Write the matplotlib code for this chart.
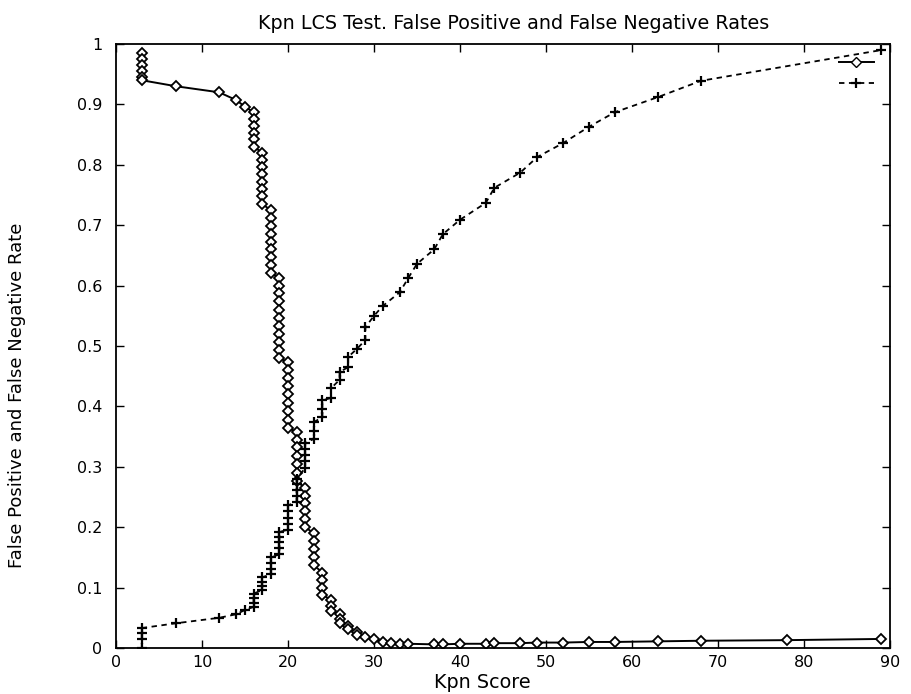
import matplotlib
matplotlib.use("Agg")
import matplotlib.pyplot as plt
from matplotlib.lines import Line2D

plt.rcParams['font.family'] = ['DejaVu Sans']

# False negative (diamonds, solid)
fn_x = [3, 3, 3, 3, 3, 3,
        7, 12, 14, 15,
        16, 16, 16, 16, 16, 16,
        17, 17, 17, 17, 17, 17, 17, 17,
        18, 18, 18, 18, 18, 18, 18, 18, 18,
        19, 19, 19, 19, 19, 19, 19, 19, 19, 19, 19,
        20, 20, 20, 20, 20, 20, 20, 20, 20,
        21, 21, 21, 21, 21, 21, 21,
        22, 22, 22, 22, 22, 22,
        23, 23, 23, 23, 23,
        24, 24, 24, 24,
        25, 25, 25,
        26, 26, 26,
        27, 27,
        28, 28,
        29, 30, 31, 32, 33, 34, 37, 38, 40, 43, 44, 47, 49, 52, 55, 58, 63, 68, 78, 89]
fn_y = [0.985, 0.975, 0.965, 0.955, 0.945, 0.94,
        0.930, 0.920, 0.907, 0.896,
        0.887, 0.876, 0.865, 0.853, 0.842, 0.830,
        0.820, 0.808, 0.796, 0.784, 0.772, 0.760, 0.748, 0.735,
        0.725, 0.712, 0.699, 0.686, 0.673, 0.660, 0.647, 0.634, 0.621,
        0.613, 0.600, 0.587, 0.574, 0.560, 0.547, 0.533, 0.520, 0.507, 0.493, 0.480,
        0.473, 0.460, 0.447, 0.434, 0.420, 0.406, 0.392, 0.378, 0.364,
        0.358, 0.345, 0.332, 0.318, 0.304, 0.290, 0.276,
        0.265, 0.252, 0.240, 0.227, 0.214, 0.200,
        0.190, 0.177, 0.164, 0.150, 0.137,
        0.125, 0.112, 0.100, 0.088,
        0.080, 0.070, 0.062,
        0.056, 0.048, 0.042,
        0.036, 0.031,
        0.026, 0.022,
        0.019, 0.015, 0.010, 0.008, 0.007, 0.007, 0.006, 0.006, 0.007, 0.007,
        0.008, 0.008, 0.009, 0.009, 0.010, 0.010, 0.011, 0.012, 0.013, 0.015]

# False positive (plus, dashed)
fp_x = [3, 3, 3, 3,
        7, 12, 14, 15,
        16, 16, 16, 16,
        17, 17, 17, 17,
        18, 18, 18, 18,
        19, 19, 19, 19, 19,
        20, 20, 20, 20, 20,
        21, 21, 21, 21, 21,
        22, 22, 22, 22, 22,
        23, 23, 23,
        24, 24, 24,
        25, 25, 26, 26, 27, 27, 28, 29, 29, 30, 31, 33, 34, 35, 37, 38, 40,
        43, 44, 47, 49, 52, 55, 58, 63, 68, 89]
fp_y = [0.0, 0.015, 0.025, 0.033,
        0.041, 0.050, 0.056, 0.063,
        0.068, 0.075, 0.083, 0.090,
        0.096, 0.103, 0.110, 0.117,
        0.122, 0.131, 0.140, 0.150,
        0.155, 0.165, 0.175, 0.184, 0.192,
        0.196, 0.206, 0.216, 0.226, 0.236,
        0.242, 0.251, 0.261, 0.271, 0.280,
        0.298, 0.309, 0.319, 0.330, 0.340,
        0.346, 0.360, 0.374,
        0.382, 0.396, 0.410,
        0.414, 0.430, 0.444, 0.457, 0.465, 0.482, 0.495, 0.510, 0.531, 0.550, 0.566,
        0.589, 0.613, 0.636, 0.660, 0.685, 0.709,
        0.737, 0.762, 0.787, 0.813, 0.836, 0.863, 0.887, 0.912, 0.939, 0.990]

xticks = [0, 10, 20, 30, 40, 50, 60, 70, 80, 90]
yticks = [0, 0.1, 0.2, 0.3, 0.4, 0.5, 0.6, 0.7, 0.8, 0.9, 1]
ytick_labels = ['0', '0.1', '0.2', '0.3', '0.4', '0.5', '0.6', '0.7', '0.8', '0.9', '1']

fig = plt.figure(figsize=(9.11, 6.94), dpi=100)
ax = fig.add_axes([116/911, 46/694, (890-116)/911, (648-44)/694])

ax.plot(fn_x, fn_y, color='black', linestyle='-', linewidth=1.4,
        marker='D', markersize=5, markerfacecolor='white', markeredgecolor='black',
        markeredgewidth=1.3)
ax.plot(fp_x, fp_y, color='black', linestyle=(0, (3, 2.5)), linewidth=1.3,
        marker='+', markersize=7, markeredgewidth=1.6)

ax.set_xlim(0, 90)
ax.set_ylim(0, 1)
ax.set_xticks(xticks)
ax.set_xticklabels([str(t) for t in xticks])
ax.set_yticks(yticks)
ax.set_yticklabels(ytick_labels)
ax.tick_params(direction='in', top=True, right=True, length=6, width=1,
               labelsize=11.5)
ax.tick_params(axis='y', pad=10)
ax.tick_params(axis='x', pad=5)
for s in ax.spines.values():
    s.set_linewidth(1.3)

ax.set_title('Kpn LCS Test. False Positive and False Negative Rates', fontsize=13.8,
             pad=11, x=(514 - 116) / 774)
ax.set_xlabel('Kpn Score', fontsize=13.8)
ax.xaxis.set_label_coords((482 - 116) / 774, (648 - 673) / 604)
ax.set_ylabel('False Positive and False Negative Rate', fontsize=13)
ax.yaxis.set_label_coords((26 - 116) / 774, (648 - 395) / 604)

h1 = Line2D([], [], color='black', linestyle='-', linewidth=1.4, marker='D', markersize=5,
            markerfacecolor='white', markeredgecolor='black')
h2 = Line2D([], [], color='black', linestyle=(0, (3, 2.5)), linewidth=1.3, marker='+',
            markersize=7, markeredgewidth=1.6)
ax.legend([h1, h2], [' ', ' '], loc='upper right', frameon=False, numpoints=1,
          handlelength=2.5, handletextpad=0.0, borderaxespad=0.45, labelspacing=0.5,
          fontsize=10)

fig.savefig('out.png', dpi=100)
